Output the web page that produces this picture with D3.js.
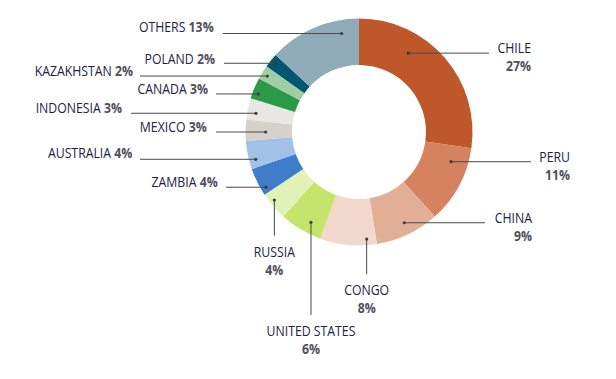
<!DOCTYPE html>
<html><head><meta charset="utf-8">
<script src="https://cdn.jsdelivr.net/npm/d3@7"></script>
<style>
html,body{margin:0;padding:0;background:#fff;}
svg text{font-family:"Open Sans",sans-serif;font-size:13.8px;}
.nm{fill:#22223f;font-weight:400;}
.pc{fill:#50505b;font-weight:700;}
</style></head>
<body><svg id="c" width="616" height="379"></svg>
<script>
// ---- data ----
const categories = ["CHILE","PERU","CHINA","CONGO","UNITED STATES","RUSSIA","ZAMBIA","AUSTRALIA","MEXICO","INDONESIA","CANADA","KAZAKHSTAN","POLAND","OTHERS"];
const shares = [27,11,9,8,6,4,4,4,3,3,3,2,2,13];
const colors = ["#BE5729","#D4825F","#E3AE96","#F1D7CC","#C5E46B","#E2F1B7","#3F7CC9","#A2C1E6","#D6D1CA","#E8E7E3","#2A9A48","#A1CDA5","#02566F","#8FABB8"];

// ---- label layout (annotation placement) ----
// [dot angle (deg, clockwise from top), dot radius, side, line end, text x, text y]
const labelLayout = [
  [32, 93, "right", 489, 531, 47.7],
  [107.9, 96.7, "right", 531, 570, 156.7],
  [153.5, 101.4, "right", 485, 532, 217.7],
  [175.9, 107.3, "down", 274.3, null, 290],
  [208, 102.3, "down", 315, null, 330.7],
  [231.2, 108.6, "down", 235.7, null, 251.7],
  [239.3, 108.2, "left", 226, 217.7, 181.7],
  [255.2, 106.8, "left", 140, 132.3, 153.3],
  [270, 93.3, "left", 216, 206.7, 126.7],
  [280.3, 104.7, "left", 131, 122, 107.7],
  [290.7, 107.6, "left", 216, 208, 89],
  [301.4, 107.4, "left", 140, 133, 70.7],
  [309.3, 108.5, "left", 224, 215, 59],
  [350, 100, "left", 222.7, 213.7, 27.5]
];

const cx = 359, cy = 132, rOuter = 113.5, rInner = 67;
const sx = 0.89; // condensed text look
const svg = d3.select("#c");
const g = svg.append("g").attr("transform", `translate(${cx},${cy})`);

const items = categories.map((c,i)=>({name:c, value:shares[i], color:colors[i]}));
const pie = d3.pie().value(d=>d.value).sort(null);
const arc = d3.arc().innerRadius(rInner).outerRadius(rOuter);
g.selectAll("path.s").data(pie(items)).join("path")
  .attr("class","s").attr("d",arc).attr("fill",d=>d.data.color);

function txt(x, y, anchor, cls){
  return svg.append("text").attr("class",cls||null)
    .attr("transform",`translate(${x},${y}) scale(${sx},1)`)
    .attr("dy","0.36em").attr("text-anchor",anchor);
}

const pctGap = 18.5;
items.forEach((d,i)=>{
  const [ang, r, side, end, tx, ty] = labelLayout[i];
  const a = ang*Math.PI/180;
  const dx = cx + r*Math.sin(a), dy = cy - r*Math.cos(a);
  let x2 = dx, y2 = dy;
  if (side === "down") y2 = end; else x2 = end;
  svg.append("line").attr("x1",dx).attr("y1",dy).attr("x2",x2).attr("y2",y2)
    .attr("stroke","#4a4a4a").attr("stroke-width",1);
  svg.append("circle").attr("cx",dx).attr("cy",dy).attr("r",1.6).attr("fill","#3d3d3d");
  if (side === "left") {
    const t = txt(tx, ty, "end");
    t.append("tspan").attr("class","nm").text(d.name+" ");
    t.append("tspan").attr("class","pc").text(d.value+"%");
  } else if (side === "right") {
    txt(tx, ty, "end", "nm").text(d.name);
    txt(tx, ty+pctGap, "end", "pc").text(d.value+"%");
  } else {
    txt(dx, ty, "middle", "nm").text(d.name);
    txt(dx, ty+pctGap, "middle", "pc").text(d.value+"%");
  }
});
</script></body></html>
